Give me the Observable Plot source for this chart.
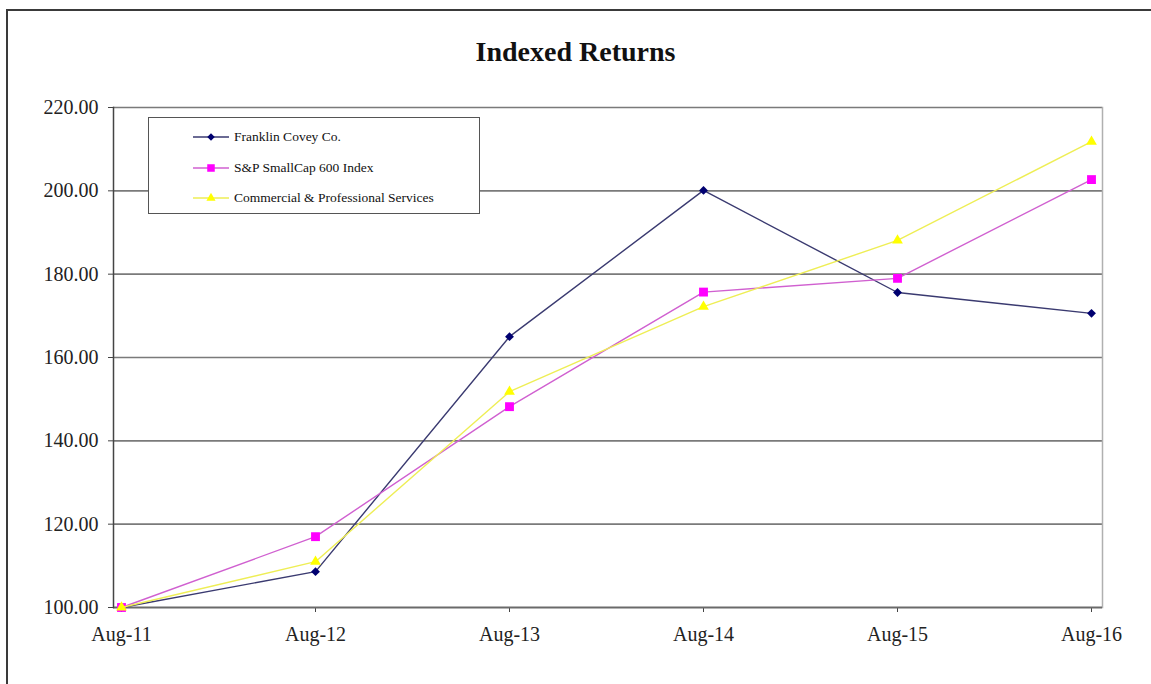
<!DOCTYPE html>
<html>
<head>
<meta charset="utf-8">
<script src="https://cdn.jsdelivr.net/npm/d3@7"></script>
<script src="https://cdn.jsdelivr.net/npm/@observablehq/plot@0.6"></script>
<style>
  html, body { margin: 0; padding: 0; background: #fff; overflow: hidden; }
  #wrap { position: relative; width: 1151px; height: 684px; overflow: hidden; font-family: "Liberation Serif", "Times New Roman", serif; }
  #bt { position: absolute; left: 6px; top: 9px; width: 1145px; height: 2px; background: #3a3a3a; }
  #bl { position: absolute; left: 6px; top: 9px; width: 2px; height: 675px; background: #3a3a3a; }
  #title { position: absolute; left: 0; width: 1151px; top: 38px; text-align: center; font-size: 28px; font-weight: bold; line-height: 1; color: #111; }
  #legend { position: absolute; left: 148px; top: 117px; width: 330px; height: 95px; border: 1.5px solid #555; background: #fff; }
  .item { position: absolute; left: 44px; height: 20px; display: flex; align-items: center; font-size: 13.5px; color: #111; }
  .item svg { margin-right: 5px; }
  svg.plot { position: absolute; left: 0; top: 0; }
</style>
</head>
<body>
<div id="wrap">
  <div id="bt"></div>
  <div id="bl"></div>
  <div id="title">Indexed Returns</div>
</div>
<script>
const months = ["Aug-11", "Aug-12", "Aug-13", "Aug-14", "Aug-15", "Aug-16"];
const seriesNames = ["Franklin Covey Co.", "S&P SmallCap 600 Index", "Commercial & Professional Services"];
const franklin = [100.0, 108.6, 165.0, 200.1, 175.6, 170.6];
const sp600 = [100.0, 117.0, 148.2, 175.7, 179.0, 202.7];
const commercial = [100.0, 111.0, 151.8, 172.2, 188.1, 211.8];
const yTicks = [100, 120, 140, 160, 180, 200, 220];

const lineColors = ["#3a3a70", "#d060d0", "#eeee55"];
const markColors = ["#000070", "#ff00ff", "#ffff00"];
const symbols = ["diamond2", "square", "triangle"];
const radii = [4.0, 5, 4.0];

const valuesBySeries = [franklin, sp600, commercial];
const rows = [];
seriesNames.forEach((s, i) => months.forEach((m, j) => rows.push({series: s, month: m, value: valuesBySeries[i][j]})));

const marks = [
  Plot.ruleY(yTicks.slice(1), {stroke: "#7a7a7a", strokeWidth: 1.6}),
  Plot.frame({anchor: "right", stroke: "#b0b0b0", strokeWidth: 1.5}),
  Plot.axisY({ticks: yTicks, tickFormat: d => d.toFixed(2), tickSize: 5, tickPadding: 10, fontSize: 20, stroke: "#444", color: "#222"}),
  Plot.axisX({tickSize: 5, tickPadding: 14, fontSize: 20, stroke: "#444", color: "#222"}),
  Plot.ruleY([100], {stroke: "#6a6a6a", strokeWidth: 1.8}),
  Plot.frame({anchor: "left", stroke: "#444", strokeWidth: 1.5})
];
seriesNames.forEach((s, i) => {
  const d = rows.filter(r => r.series === s);
  marks.push(Plot.line(d, {x: "month", y: "value", stroke: lineColors[i], strokeWidth: 1.4}));
  marks.push(Plot.dot(d, {x: "month", y: "value", symbol: symbols[i], r: radii[i], fill: markColors[i], stroke: "none"}));
});

const chart = Plot.plot({
  width: 1151,
  height: 684,
  marginLeft: 113,
  marginRight: 49,
  marginTop: 107,
  marginBottom: 77,
  style: {fontFamily: "Liberation Serif, Times New Roman, serif", background: "transparent"},
  x: {type: "point", domain: months, padding: 0, insetLeft: 7, insetRight: 10, label: null},
  y: {domain: [100, 220], label: null},
  marks
});
chart.classList.add("plot");
const wrap = document.getElementById("wrap");
wrap.insertBefore(chart, document.getElementById("title"));

// legend
const legend = document.createElement("div");
legend.id = "legend";
const symMap = {diamond2: d3.symbolDiamond2, square: d3.symbolSquare, triangle: d3.symbolTriangle};
seriesNames.forEach((s, i) => {
  const item = document.createElement("div");
  item.className = "item";
  item.style.top = (9 + i * 30.5) + "px";
  const ns = "http://www.w3.org/2000/svg";
  const svg = document.createElementNS(ns, "svg");
  svg.setAttribute("width", 36); svg.setAttribute("height", 12);
  const ln = document.createElementNS(ns, "line");
  ln.setAttribute("x1", 0); ln.setAttribute("x2", 36); ln.setAttribute("y1", 6); ln.setAttribute("y2", 6);
  ln.setAttribute("stroke", lineColors[i]); ln.setAttribute("stroke-width", 1.4);
  svg.appendChild(ln);
  const p = document.createElementNS(ns, "path");
  const rr = radii[i] * 0.85;
  p.setAttribute("d", d3.symbol(symMap[symbols[i]], Math.PI * rr * rr)());
  p.setAttribute("transform", "translate(18,6)");
  p.setAttribute("fill", markColors[i]);
  svg.appendChild(p);
  item.appendChild(svg);
  item.appendChild(document.createTextNode(s));
  legend.appendChild(item);
});
wrap.appendChild(legend);
</script>
</body>
</html>
